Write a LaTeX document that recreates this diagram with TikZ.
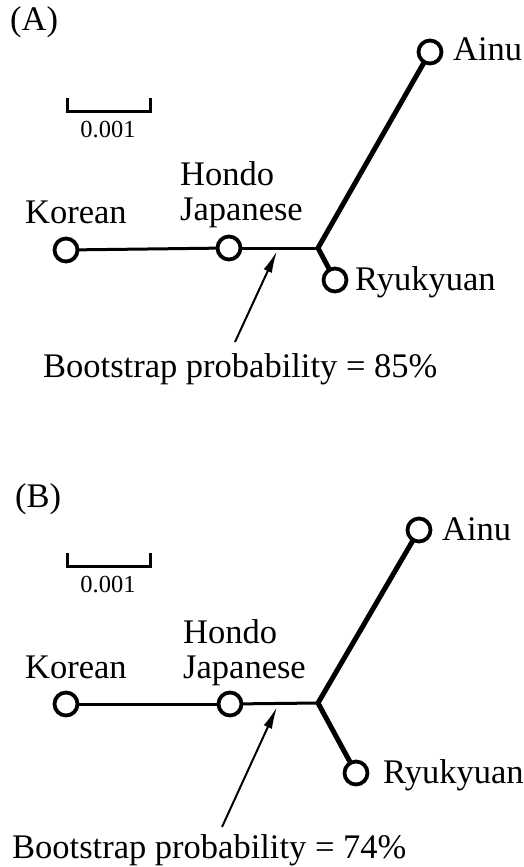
\documentclass[tikz,border=0pt]{standalone}
\usepackage{fontspec}
\setmainfont{Liberation Serif}
\usetikzlibrary{arrows.meta,backgrounds}
\begin{document}
\begin{tikzpicture}[x=1pt,y=-1pt,
  txt/.style={inner sep=0pt,anchor=base west,font=\fontsize{34.5}{35}\selectfont},
  boot/.style={txt,font=\fontsize{34.5}{35}\selectfont},
  sc/.style={inner sep=0pt,anchor=base,font=\fontsize{24.5}{26}\selectfont},
  leaf/.style={circle,draw,line width=3.8pt,fill=white,minimum size=23pt,inner sep=0pt},
  thin/.style={line width=3pt},
  thick/.style={line width=5pt},
  bar/.style={line width=3pt},
  pointer/.style={line width=2pt,-{Latex[length=22pt,width=9pt]}}]
\useasboundingbox (0,0) rectangle (524,867);
% ---------- Panel A ----------
\node[txt] (la) at (10,31) {(A)};
\coordinate (sa1) at (67,98);
\coordinate (sa2) at (67,111);
\coordinate (sa3) at (150,111);
\coordinate (sa4) at (150,98);
\draw[bar] (sa1) -- (sa2) -- (sa3) -- (sa4);
\node[sc] (sla) at (108,137) {0.001};
\coordinate (ja) at (318,248);
\node[leaf] (koa) at (66,250) {};
\node[leaf] (hoa) at (229,248) {};
\node[leaf] (aia) at (430,52) {};
\node[leaf] (rya) at (335,280) {};
\begin{scope}[on background layer]
\draw[thin] (koa.center) -- (hoa.center);
\draw[thin] (hoa.center) -- (ja);
\draw[thick] (ja) -- (aia.center);
\draw[thick] (ja) -- (rya.center);
\end{scope}
\node[txt] (tka) at (25,223) {Korean};
\node[txt,align=left] (tha) at (180,220) {Hondo\\Japanese};
\node[txt] (taa) at (453,60) {Ainu};
\node[txt] (tra) at (355,290) {Ryukyuan};
\node[boot] (tba) at (43,377) {Bootstrap probability = 85\%};
\coordinate (arA0) at (235,342);
\coordinate (arA1) at (277,251);
\draw[pointer] (arA0) -- (arA1);
% ---------- Panel B ----------
\node[txt] (lb) at (15,507) {(B)};
\coordinate (sb1) at (67,553);
\coordinate (sb2) at (67,566);
\coordinate (sb3) at (150,566);
\coordinate (sb4) at (150,553);
\draw[bar] (sb1) -- (sb2) -- (sb3) -- (sb4);
\node[sc] (slb) at (108,592) {0.001};
\coordinate (jb) at (318,703);
\node[leaf] (kob) at (66,704) {};
\node[leaf] (hob) at (230,704) {};
\node[leaf] (aib) at (419,530) {};
\node[leaf] (ryb) at (356,773) {};
\begin{scope}[on background layer]
\draw[thin] (kob.center) -- (hob.center);
\draw[thin] (hob.center) -- (jb);
\draw[thick] (jb) -- (aib.center);
\draw[thick] (jb) -- (ryb.center);
\end{scope}
\node[txt] (tkb) at (25,678) {Korean};
\node[txt,align=left] (thb) at (183,678) {Hondo\\Japanese};
\node[txt] (tab) at (442,540) {Ainu};
\node[txt] (trb) at (383,783) {Ryukyuan};
\node[boot] (tbb) at (12,858) {Bootstrap probability = 74\%};
\coordinate (arB0) at (222,827);
\coordinate (arB1) at (277,707);
\draw[pointer] (arB0) -- (arB1);
\end{tikzpicture}
\end{document}
